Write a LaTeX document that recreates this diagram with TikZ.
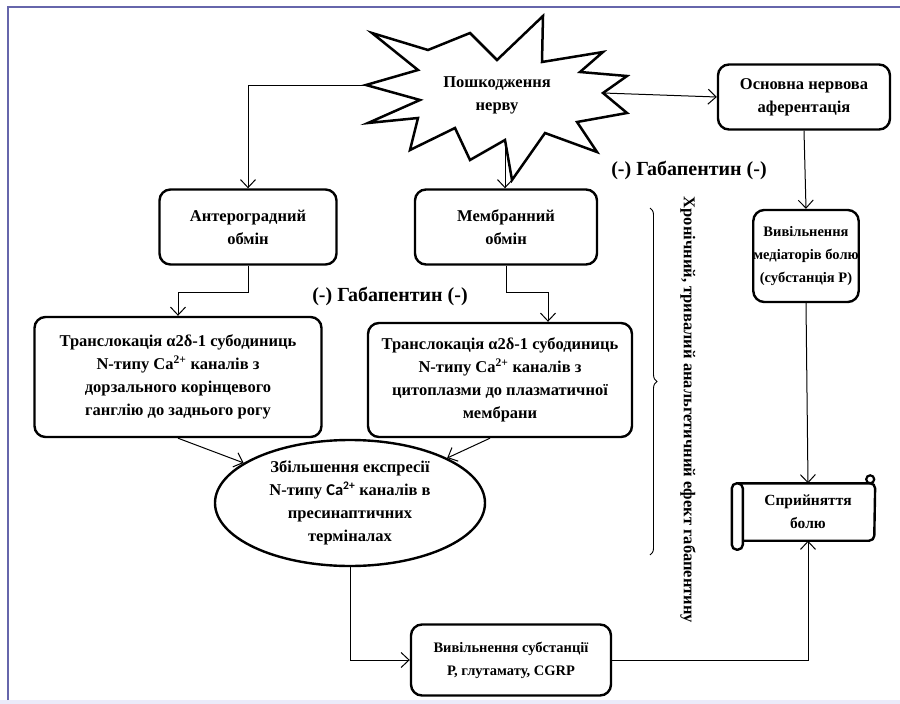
\documentclass[tikz,border=0pt]{standalone}
\usepackage{fontspec}
\setmainfont{Liberation Serif}
\newfontfamily\casans{Carlito}
\usetikzlibrary{shapes.geometric,decorations.pathreplacing,arrows.meta}

\begin{document}
\begin{tikzpicture}[x=1pt,y=1pt]
    \tikzstyle{every node}+=[inner sep=0pt, align=center, font=\fontsize{16.5}{23}\selectfont\bfseries]
    \tikzstyle{box}=[draw, line width=2.4pt, rounded corners=11pt]
    \tikzstyle{smalltext}=[font=\fontsize{14.5}{23}\selectfont\bfseries]
    \tikzstyle{link}=[line width=1pt, -{Straight Barb[length=8pt,width=15pt,line width=1pt]}]
    \tikzstyle{gaba}=[font=\fontsize{20}{22}\selectfont\bfseries]
    \useasboundingbox (0,0) rectangle (900,-704);
    \fill [black!22!blue!8] (0,-700) rectangle (900,-704);
    \draw [line width=1.3pt, blue!45!black!60] (8,-700) -- (8,-7) -- (900,-7);
    \draw [line width=2.5pt, line join=miter] (372,-33) -- (428,-50) -- (470,-33) -- (497,-60) -- (543,-16) -- (542,-62) -- (603,-52) -- (580,-72) -- (627,-76) -- (603,-93) -- (627,-113) -- (577,-122) -- (597,-152) -- (545,-133) -- (512,-180) -- (505,-140) -- (470,-160) -- (455,-128) -- (410,-150) -- (418,-118) -- (368,-123) -- (420,-100) -- (366,-85) -- (418,-70) -- cycle;
    \coordinate (burstL) at (366,-85);
    \coordinate (burstR) at (603,-93);
    \coordinate (burstB) at (505,-140);
    \node (injury) at (497,-95) {Пошкодження\\нерву};
    \node (afferent) [box, minimum width=172, minimum height=65] at (804,-97) {Основна нервова\\аферентація};
    \node (mediators) [box, smalltext, minimum width=105, minimum height=92] at (806,-256) {Вивільнення\\медіаторів болю\\(субстанція Р)};
    \node (anterograde) [box, minimum width=177, minimum height=75] at (248,-227) {Антероградний\\обмін};
    \node (membrane) [box, minimum width=182, minimum height=75] at (506,-227) {Мембранний\\обмін};
    \node (transl1) [box, minimum width=287, minimum height=120] at (178,-377) {Транслокація α2δ-1 субодиниць\\N-типу Ca\textsuperscript{2+} каналів з\\дорзального корінцевого\\ганглію до заднього рогу};
    \node (transl2) [box, minimum width=264, minimum height=114] at (500,-380) {Транслокація α2δ-1 субодиниць\\N-типу Ca\textsuperscript{2+} каналів з\\цитоплазми до плазматичної\\мембрани};
    \node (express) [ellipse, draw, line width=2.4pt, minimum width=270, minimum height=126] at (350,-503) {Збільшення експресії\\N-типу {\casans Ca\textsuperscript{2+}} каналів в\\пресинаптичних\\терміналах};
    \node (release) [box, smalltext, minimum width=200, minimum height=71] at (511,-660) {Вивільнення субстанції\\Р, глутамату, CGRP};
    \node (percep) [font=\fontsize{15.5}{23}\selectfont\bfseries, minimum width=132, minimum height=57] at (808,-512) {Сприйняття\\болю};
    \draw [line width=2.4pt, rounded corners=5pt] ([xshift=-4pt]percep.north west) -- ([xshift=-6pt]percep.north east) -- ([xshift=1pt]percep.north east) -- (percep.south east) -- ([xshift=2pt]percep.south west);
    \draw [line width=2.4pt, rounded corners=5pt] ([xshift=-10pt]percep.north west) rectangle ([xshift=1pt,yshift=-9pt]percep.south west);
    \draw [line width=2.2pt] ([xshift=-4pt,yshift=4pt]percep.north east) circle (4pt);
    \node (gabaR) [gaba] at (689,-170) {(-) Габапентин (-)};
    \node (gabaL) [gaba] at (390,-296) {(-) Габапентин (-)};
    \draw [line width=0.9pt, decorate, decoration={brace, amplitude=7pt}] (650,-208) -- (650,-555);
    \node (effect) [rotate=-90, font=\fontsize{16.5}{20}\selectfont\bfseries] at (688,-410) {Хронічний, тривалий анальгетичний ефект габапентину};
    \draw [link] (burstL) -| (anterograde.north);
    \draw [link] (burstB) -- (burstB |- membrane.north);
    \draw [link] (burstR) -- (afferent.west);
    \draw [link] (afferent.south) -- (mediators.north);
    \draw [link] (mediators.south) -- (percep.north);
    \draw [link] (anterograde.south) -- ++(0,-27) -| (transl1.north);
    \draw [link] (membrane.south) -- ++(0,-27) -| ([xshift=48pt]transl2.north);
    \draw [link] (transl1.south) -- (express);
    \draw [link] ([xshift=-10pt]transl2.south) -- (express);
    \draw [link] (express.south) |- (release.west);
    \draw [link] (release.east) -| (percep.south);
\end{tikzpicture}
\end{document}
